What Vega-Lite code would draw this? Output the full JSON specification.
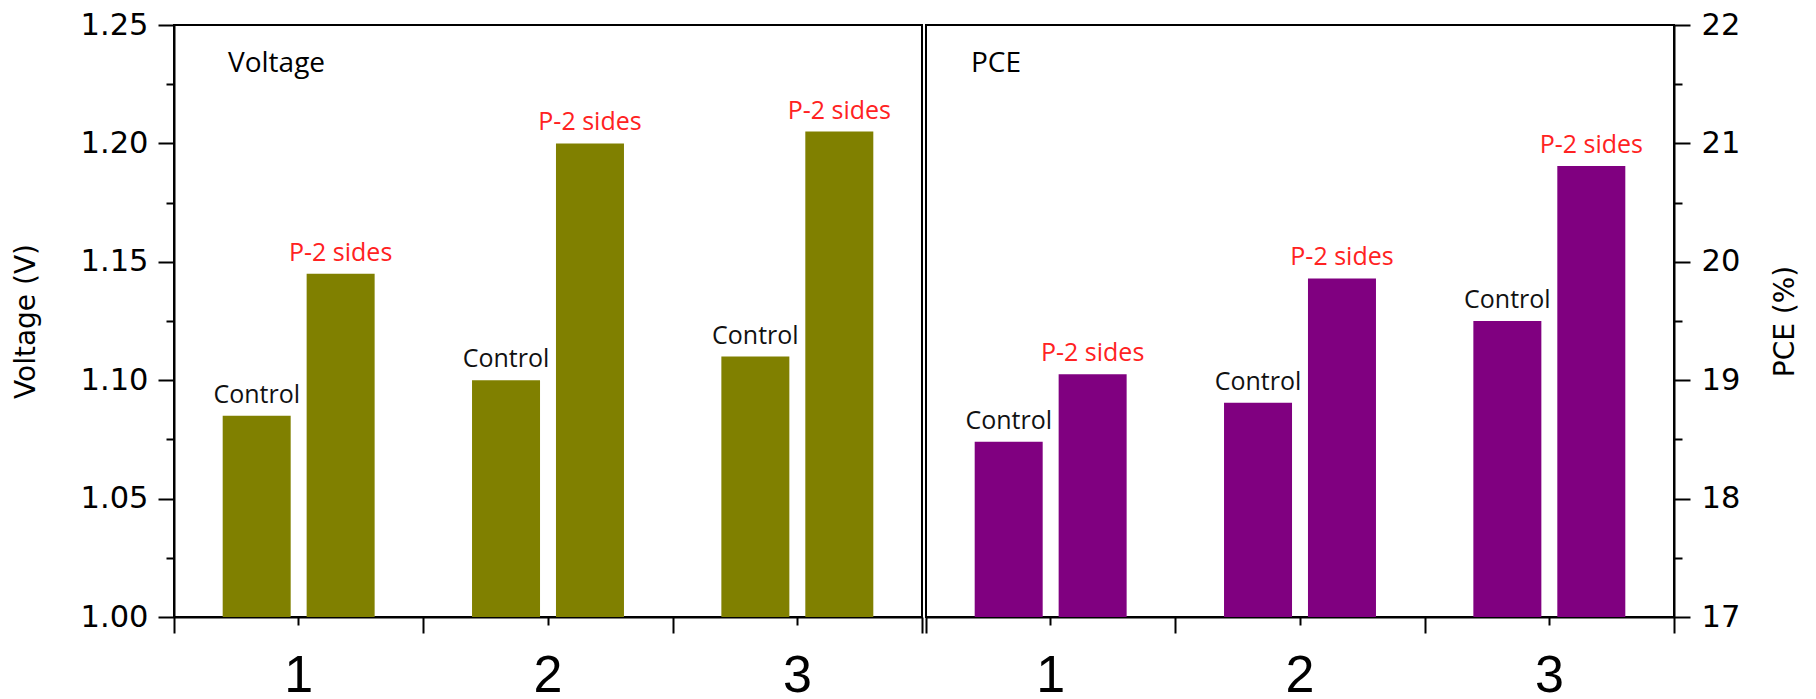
{
  "$schema": "https://vega.github.io/schema/vega-lite/v6.json",
  "background": "white",
  "padding": {"left": 11, "top": 9, "right": 5, "bottom": 5},
  "spacing": 0,
  "config": {
    "view": {"stroke": "black", "strokeWidth": 2},
    "axis": {
      "domainColor": "black", "domainWidth": 2, "tickColor": "black", "tickWidth": 2,
      "labelColor": "black", "titleColor": "black", "grid": false
    }
  },
  "datasets": {
    "voltage": [
      {"group": "1", "series": "Control", "value": 1.085},
      {"group": "1", "series": "P-2 sides", "value": 1.145},
      {"group": "2", "series": "Control", "value": 1.100},
      {"group": "2", "series": "P-2 sides", "value": 1.200},
      {"group": "3", "series": "Control", "value": 1.110},
      {"group": "3", "series": "P-2 sides", "value": 1.205}
    ],
    "pce": [
      {"group": "1", "series": "Control", "value": 18.48},
      {"group": "1", "series": "P-2 sides", "value": 19.05},
      {"group": "2", "series": "Control", "value": 18.81},
      {"group": "2", "series": "P-2 sides", "value": 19.86},
      {"group": "3", "series": "Control", "value": 19.50},
      {"group": "3", "series": "P-2 sides", "value": 20.81}
    ]
  },
  "hconcat": [
    {
      "width": 748,
      "height": 592,
      "data": {"name": "voltage"},
      "layer": [
        {
          "mark": {"type": "bar", "color": "#808000"},
          "encoding": {
            "x": {"field": "group", "type": "nominal", "sort": ["1", "2", "3"],
              "scale": {"paddingInner": 0, "paddingOuter": 0},
              "axis": {"orient": "bottom", "title": null, "labels": false, "tickBand": "extent", "tickSize": 16}},
            "xOffset": {"field": "series", "type": "nominal", "sort": ["Control", "P-2 sides"],
              "scale": {"paddingInner": 0.19, "paddingOuter": 0.58}},
            "y": {"field": "value", "type": "quantitative",
              "scale": {"domain": [1.0, 1.25], "nice": false, "zero": false},
              "axis": {"orient": "left", "values": [1.0, 1.05, 1.1, 1.15, 1.2, 1.25], "format": ".2f",
                "tickSize": 16, "labelPadding": 10, "labelFont": "DejaVu Sans", "labelFontSize": 30.5,
                "title": "Voltage (V)", "titleFont": "DejaVu Sans", "titleFontSize": 28, "titleFontWeight": "normal", "titlePadding": 40}},
            "y2": {"datum": 1.0}
          }
        },
        {
          "mark": {"type": "text", "baseline": "alphabetic", "dy": -13, "font": "Open Sans", "fontSize": 25},
          "encoding": {
            "x": {"field": "group", "type": "nominal", "sort": ["1", "2", "3"],
              "axis": {"orient": "bottom", "title": null, "tickSize": 8, "domain": false, "labelFont": "Liberation Sans", "labelFontSize": 52, "labelPadding": 25, "labelAngle": 0}},
            "xOffset": {"field": "series", "type": "nominal", "sort": ["Control", "P-2 sides"]},
            "y": {"field": "value", "type": "quantitative",
              "axis": {"orient": "left", "values": [1.025, 1.075, 1.125, 1.175, 1.225], "labels": false, "domain": false, "tickSize": 8, "title": null}},
            "text": {"field": "series"},
            "color": {"field": "series", "type": "nominal",
              "scale": {"domain": ["Control", "P-2 sides"], "range": ["#111111", "#ff2222"]}, "legend": null}
          }
        },
        {
          "data": {"values": [{"label": "Voltage"}]},
          "mark": {"type": "text", "align": "left", "baseline": "alphabetic", "dx": 54, "dy": 47, "font": "Open Sans", "fontSize": 28, "color": "black"},
          "encoding": {
            "x": {"datum": "1", "bandPosition": 0, "axis": null},
            "y": {"datum": 1.25, "axis": null},
            "text": {"field": "label"}
          }
        }
      ],
      "resolve": {"axis": {"x": "independent", "y": "independent"}}
    },
    {
      "width": 748,
      "height": 592,
      "data": {"name": "pce"},
      "layer": [
        {
          "mark": {"type": "bar", "color": "#800080"},
          "encoding": {
            "x": {"field": "group", "type": "nominal", "sort": ["1", "2", "3"],
              "scale": {"paddingInner": 0, "paddingOuter": 0},
              "axis": {"orient": "bottom", "title": null, "labels": false, "tickBand": "extent", "tickSize": 16}},
            "xOffset": {"field": "series", "type": "nominal", "sort": ["Control", "P-2 sides"],
              "scale": {"paddingInner": 0.19, "paddingOuter": 0.58}},
            "y": {"field": "value", "type": "quantitative",
              "scale": {"domain": [17, 22], "nice": false, "zero": false},
              "axis": {"orient": "right", "values": [17, 18, 19, 20, 21, 22], "format": "d",
                "tickSize": 16, "labelPadding": 11, "labelFont": "DejaVu Sans", "labelFontSize": 30.5,
                "title": "PCE (%)", "titleAngle": 270, "titleFont": "DejaVu Sans", "titleFontSize": 28, "titleFontWeight": "normal", "titlePadding": 60}},
            "y2": {"datum": 17}
          }
        },
        {
          "mark": {"type": "text", "baseline": "alphabetic", "dy": -13, "font": "Open Sans", "fontSize": 25},
          "encoding": {
            "x": {"field": "group", "type": "nominal", "sort": ["1", "2", "3"],
              "axis": {"orient": "bottom", "title": null, "tickSize": 8, "domain": false, "labelFont": "Liberation Sans", "labelFontSize": 52, "labelPadding": 25, "labelAngle": 0}},
            "xOffset": {"field": "series", "type": "nominal", "sort": ["Control", "P-2 sides"]},
            "y": {"field": "value", "type": "quantitative",
              "axis": {"orient": "right", "values": [17.5, 18.5, 19.5, 20.5, 21.5], "labels": false, "domain": false, "tickSize": 8, "title": null}},
            "text": {"field": "series"},
            "color": {"field": "series", "type": "nominal",
              "scale": {"domain": ["Control", "P-2 sides"], "range": ["#111111", "#ff2222"]}, "legend": null}
          }
        },
        {
          "data": {"values": [{"label": "PCE"}]},
          "mark": {"type": "text", "align": "left", "baseline": "alphabetic", "dx": 45, "dy": 47, "font": "Open Sans", "fontSize": 28, "color": "black"},
          "encoding": {
            "x": {"datum": "1", "bandPosition": 0, "axis": null},
            "y": {"datum": 22, "axis": null},
            "text": {"field": "label"}
          }
        }
      ],
      "resolve": {"axis": {"x": "independent", "y": "independent"}}
    }
  ]
}
